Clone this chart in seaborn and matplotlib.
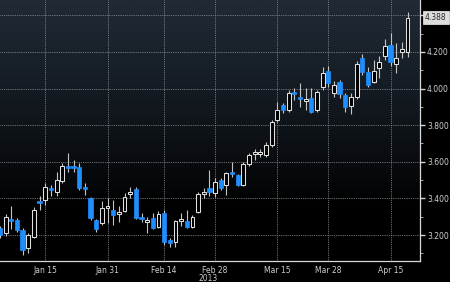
import numpy as np
import pandas as pd
import matplotlib
matplotlib.use("Agg")
import matplotlib.pyplot as plt
import matplotlib.transforms as mtransforms
import seaborn as sns

# ---- data ----
dates = ["Jan 3", "Jan 4", "Jan 7", "Jan 8", "Jan 9", "Jan 10", "Jan 11", "Jan 14", "Jan 15", "Jan 16",
         "Jan 17", "Jan 18", "Jan 22", "Jan 23", "Jan 24", "Jan 25", "Jan 28", "Jan 29", "Jan 30", "Jan 31",
         "Feb 1", "Feb 4", "Feb 5", "Feb 6", "Feb 7", "Feb 8", "Feb 11", "Feb 12", "Feb 13", "Feb 14",
         "Feb 15", "Feb 19", "Feb 20", "Feb 21", "Feb 22", "Feb 25", "Feb 26", "Feb 27", "Feb 28", "Mar 1",
         "Mar 4", "Mar 5", "Mar 6", "Mar 7", "Mar 8", "Mar 11", "Mar 12", "Mar 13", "Mar 14", "Mar 15",
         "Mar 18", "Mar 19", "Mar 20", "Mar 21", "Mar 22", "Mar 25", "Mar 26", "Mar 27", "Mar 28", "Apr 1",
         "Apr 2", "Apr 3", "Apr 4", "Apr 5", "Apr 8", "Apr 9", "Apr 10", "Apr 11", "Apr 12", "Apr 15",
         "Apr 16", "Apr 17", "Apr 18"]
open_ = [3.238, 3.211, 3.287, 3.282, 3.227, 3.129, 3.189, 3.386, 3.391, 3.457,
         3.435, 3.495, 3.577, 3.577, 3.572, 3.462, 3.402, 3.282, 3.266, 3.348,
         3.337, 3.315, 3.331, 3.424, 3.451, 3.298, 3.271, 3.293, 3.244, 3.320,
         3.173, 3.162, 3.276, 3.276, 3.244, 3.326, 3.424, 3.457, 3.430, 3.500,
         3.473, 3.544, 3.528, 3.473, 3.588, 3.643, 3.643, 3.637, 3.692, 3.828,
         3.910, 3.883, 3.981, 3.954, 3.932, 3.948, 3.883, 4.009, 4.096, 3.976,
         4.036, 3.965, 3.905, 3.954, 4.167, 4.091, 4.036, 4.113, 4.178, 4.238,
         4.134, 4.200, 4.200]
close = [3.200, 3.298, 3.276, 3.227, 3.118, 3.200, 3.337, 3.375, 3.462, 3.446,
         3.500, 3.577, 3.566, 3.566, 3.457, 3.451, 3.293, 3.233, 3.348, 3.353,
         3.309, 3.326, 3.408, 3.435, 3.293, 3.287, 3.282, 3.238, 3.315, 3.162,
         3.156, 3.276, 3.287, 3.244, 3.298, 3.424, 3.435, 3.435, 3.490, 3.457,
         3.539, 3.533, 3.473, 3.588, 3.637, 3.654, 3.654, 3.692, 3.817, 3.883,
         3.883, 3.976, 3.970, 3.943, 3.943, 3.872, 3.981, 4.085, 4.031, 4.020,
         3.970, 3.899, 3.954, 4.134, 4.091, 4.020, 4.096, 4.145, 4.233, 4.145,
         4.167, 4.216, 4.388]
high = [3.249, 3.315, 3.358, 3.293, 3.238, 3.211, 3.353, 3.413, 3.484, 3.473,
        3.544, 3.593, 3.648, 3.610, 3.593, 3.484, 3.408, 3.287, 3.386, 3.402,
        3.391, 3.358, 3.429, 3.462, 3.462, 3.320, 3.298, 3.320, 3.331, 3.337,
        3.184, 3.282, 3.320, 3.337, 3.309, 3.435, 3.457, 3.555, 3.511, 3.511,
        3.544, 3.599, 3.533, 3.599, 3.648, 3.670, 3.670, 3.708, 3.828, 3.927,
        3.921, 3.992, 4.003, 4.031, 4.003, 4.003, 3.992, 4.118, 4.123, 4.041,
        4.047, 3.976, 3.976, 4.151, 4.189, 4.118, 4.156, 4.178, 4.271, 4.304,
        4.249, 4.255, 4.418]
low = [3.184, 3.195, 3.233, 3.216, 3.091, 3.102, 3.184, 3.337, 3.364, 3.413,
       3.413, 3.484, 3.544, 3.544, 3.446, 3.419, 3.282, 3.216, 3.255, 3.266,
       3.255, 3.271, 3.326, 3.402, 3.287, 3.271, 3.211, 3.233, 3.238, 3.145,
       3.134, 3.134, 3.249, 3.238, 3.238, 3.320, 3.402, 3.413, 3.408, 3.446,
       3.419, 3.517, 3.468, 3.468, 3.577, 3.610, 3.626, 3.626, 3.681, 3.817,
       3.867, 3.872, 3.938, 3.899, 3.883, 3.867, 3.872, 3.992, 4.009, 3.954,
       3.948, 3.872, 3.861, 3.943, 4.074, 4.009, 4.031, 4.058, 4.156, 4.123,
       4.085, 4.167, 4.173]

tick_dates = ["Jan 15", "Jan 31", "Feb 14", "Feb 28", "Mar 15", "Mar 28", "Apr 15"]
minor_dates = ["Jan 7", "Jan 22", "Feb 7", "Feb 21", "Mar 8", "Mar 22", "Apr 8"]
y_ticks = [3.2, 3.4, 3.6, 3.8, 4.0, 4.2, 4.4]
y_labels = ["3.200", "3.400", "3.600", "3.800", "4.000", "4.200", ""]
year_label = "2013"
last_label = "4.388"

df = pd.DataFrame({"date": dates, "open": open_, "close": close, "high": high, "low": low})
df["idx"] = np.arange(len(df))
df["up"] = df["close"] >= df["open"]

# ---- style ----
sns.set_theme(style="dark", rc={
    "axes.facecolor": "black", "figure.facecolor": "black",
    "axes.edgecolor": "#cfcfcf", "text.color": "#c8c8c8",
    "xtick.color": "#c8c8c8", "ytick.color": "#c8c8c8",
})
plt.rcParams["font.family"] = ["DejaVu Sans"]

fig = plt.figure(figsize=(4.5, 2.82), dpi=100)
ax = fig.add_axes([0.0, 21 / 282, 420 / 450, 261 / 282])

ymin, ymax = 3.058, 4.484
xmin, xmax = 0.0, 74.2
ax.set_xlim(xmin, xmax)
ax.set_ylim(ymin, ymax)

# background gradient (dark slate at top fading to black)
grad = np.linspace(0, 1, 256).reshape(-1, 1)
top = np.array([32, 43, 54]) / 255.0
alpha_curve = np.clip((grad - 0.22) / 0.78, 0, 1) ** 0.8
img = np.zeros((256, 1, 3))
img[:, 0, :] = alpha_curve * top
ax.imshow(img, extent=[xmin, xmax, ymin, ymax], origin="lower", aspect="auto", zorder=0,
          interpolation="bilinear")

# grid
grid_kw = dict(color="#8d9399", linewidth=0.6, linestyle=(0, (1, 1.2)), zorder=1)
for yv in y_ticks:
    ax.axhline(yv, **grid_kw)
tick_pos = [dates.index(d) for d in tick_dates]
for xv in tick_pos:
    ax.axvline(xv, **grid_kw)

# candles
blue = "#1f8fff"
wick_col = "#c4c4c4"
ax.vlines(df["idx"], df["low"], df["high"], color=wick_col, linewidth=0.8, zorder=2)
body_h = (df["close"] - df["open"]).abs().clip(lower=0.009)
body_b = df[["open", "close"]].min(axis=1)
up = df[df["up"]]
dn = df[~df["up"]]
ax.bar(up["idx"], body_h[df["up"]], bottom=body_b[df["up"]], width=0.68,
       facecolor="black", edgecolor="#e0e0e0", linewidth=0.75, zorder=3)
ax.bar(dn["idx"], body_h[~df["up"]], bottom=body_b[~df["up"]], width=0.76,
       facecolor=blue, edgecolor=blue, linewidth=0.5, zorder=3)

# axes / ticks
for s in ["left", "top"]:
    ax.spines[s].set_visible(False)
ax.spines["right"].set_color("#d8d8d8")
ax.spines["bottom"].set_color("#d8d8d8")
ax.spines["right"].set_linewidth(0.9)
ax.spines["bottom"].set_linewidth(0.9)

ax.yaxis.tick_right()
ax.set_yticks(y_ticks)
ax.set_yticklabels(y_labels)
ax.set_yticks([v + 0.1 for v in y_ticks[:-1]] + [3.1], minor=True)
ax.tick_params(axis="y", which="major", length=3.5, width=1.0, pad=1.5, labelsize=5.5,
               colors="#d0d0d0", direction="out")
ax.tick_params(axis="y", which="minor", length=2, width=0.6, colors="#bbbbbb")

ax.set_xticks(tick_pos)
ax.set_xticklabels(tick_dates)
ax.set_xticks([dates.index(d) for d in minor_dates], minor=True)
ax.tick_params(axis="x", which="major", length=2.5, width=0.8, pad=0.8, labelsize=5.5,
               colors="#d0d0d0", direction="out")
ax.tick_params(axis="x", which="minor", length=2, width=0.6, colors="#bbbbbb")
ax.grid(False)

# year label
fig.text(208 / 450, 1 - 278.5 / 282, year_label, ha="center", va="center", fontsize=5.5, color="#c8c8c8")

# last-value label box
trans = mtransforms.blended_transform_factory(ax.transAxes, ax.transData)
ax.text(1.012, close[-1], last_label, transform=trans, ha="left", va="center", fontsize=5.5,
        color="#2a2a2a", zorder=6, clip_on=False,
        bbox=dict(boxstyle="square,pad=0.25", facecolor="#dcdcdc", edgecolor="#f0f0f0", linewidth=0.5))

fig.savefig("out.png", dpi=100, facecolor="black")
